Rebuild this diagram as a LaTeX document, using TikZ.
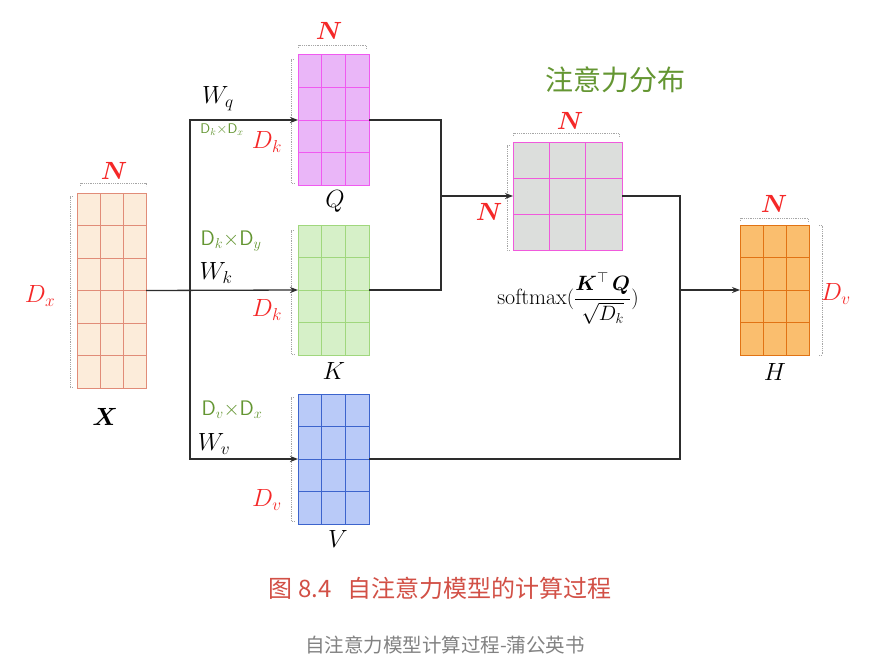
\documentclass[tikz,border=0pt]{standalone}
\usepackage{amsmath}
\usepackage{fontspec}
\newfontfamily\cjk{Noto Sans CJK SC}
\usetikzlibrary{arrows.meta,calc}
\definecolor{lblred}{RGB}{245,40,40}
\definecolor{hgreen}{RGB}{100,150,50}
\definecolor{capred}{RGB}{210,80,70}
\definecolor{capgrey}{RGB}{130,130,130}
\definecolor{conncol}{RGB}{45,45,45}
\definecolor{xfill}{RGB}{252,236,218}\definecolor{xdraw}{RGB}{225,140,120}
\definecolor{qfill}{RGB}{234,182,248}\definecolor{qdraw}{RGB}{240,90,240}
\definecolor{kfill}{RGB}{214,240,200}\definecolor{kdraw}{RGB}{160,215,125}
\definecolor{vfill}{RGB}{185,202,248}\definecolor{vdraw}{RGB}{60,100,205}
\definecolor{sfill}{RGB}{220,222,220}\definecolor{sdraw}{RGB}{240,90,220}
\definecolor{hfill}{RGB}{250,190,110}\definecolor{hdraw}{RGB}{225,115,20}
\newcommand\matgrid[4]{%
  \pgfmathtruncatemacro\ncols{#2-1}\pgfmathtruncatemacro\nrows{#3-1}%
  \foreach \i in {1,...,\ncols}{\draw[#4,line width=1pt] ($(#1.north west)!\i/#2!(#1.north east)$) -- ($(#1.south west)!\i/#2!(#1.south east)$);}%
  \foreach \j in {1,...,\nrows}{\draw[#4,line width=1pt] ($(#1.north west)!\j/#3!(#1.south west)$) -- ($(#1.north east)!\j/#3!(#1.south east)$);}}
\tikzset{
  matbox/.style={draw, line width=1pt, inner sep=0pt, outer sep=0pt, rectangle},
  conn/.style={draw=conncol, line width=1.3pt},
  arr/.style={conn, -{Stealth[length=8pt,width=6pt]}},
  lbl/.style={font=\fontsize{23}{26}\selectfont, inner sep=0pt},
  rlbl/.style={lbl, text=lblred},
  hand/.style={text=hgreen, font=\sffamily\fontsize{21}{24}\selectfont, inner sep=0pt},
  dim/.style={draw=gray!70, densely dotted, line width=0.8pt}
}
\begin{document}
\begin{tikzpicture}[x=1pt,y=-1pt]
\useasboundingbox[fill=white] (0,0) rectangle (896,669);
% matrices
\node[matbox, draw=xdraw, fill=xfill, minimum width=69pt, minimum height=195pt] (X) at (111.5,290.5) {};
\matgrid{X}{3}{6}{xdraw}
\node[matbox, draw=qdraw, fill=qfill, minimum width=71pt, minimum height=130pt] (Q) at (333.5,120) {};
\matgrid{Q}{3}{4}{qdraw}
\node[matbox, draw=kdraw, fill=kfill, minimum width=71pt, minimum height=130pt] (K) at (333.5,290) {};
\matgrid{K}{3}{4}{kdraw}
\node[matbox, draw=vdraw, fill=vfill, minimum width=71pt, minimum height=130pt] (V) at (333.5,459) {};
\matgrid{V}{3}{4}{vdraw}
\node[matbox, draw=sdraw, fill=sfill, minimum width=109pt, minimum height=108pt] (S) at (567.5,196) {};
\matgrid{S}{3}{3}{sdraw}
\node[matbox, draw=hdraw, fill=hfill, minimum width=69pt, minimum height=130pt] (H) at (774.5,290) {};
\matgrid{H}{3}{4}{hdraw}
% dimension brackets
\draw[dim] (80,186) -- (80,183) -- (146,183) -- (146,186);
\draw[dim] (73,196) -- (70,196) -- (70,387) -- (73,387);
\draw[dim] (298,48) -- (298,45) -- (366,45) -- (366,48);
\draw[dim] (294,59) -- (291,59) -- (291,183) -- (294,183);
\draw[dim] (294,230) -- (291,230) -- (291,354) -- (294,354);
\draw[dim] (294,397) -- (291,397) -- (291,521) -- (294,521);
\draw[dim] (513,136) -- (513,133) -- (619,133) -- (619,136);
\draw[dim] (510,145) -- (507,145) -- (507,250) -- (510,250);
\draw[dim] (740,221) -- (740,218) -- (808,218) -- (808,221);
\draw[dim] (819,225) -- (822,225) -- (822,355) -- (819,355);
% connectors
\coordinate (jx) at (190,290);
\coordinate (js) at (441,196);
\coordinate (jh) at (680,290);
\draw[arr] (X.east) -- (K.west);
\draw[arr] (jx) |- (Q.west);
\draw[arr] (jx) |- (V.west);
\draw[conn] (Q.east) -| (js);
\draw[conn] (K.east) -| (js);
\draw[arr] (js) -- (S.west);
\draw[conn] (S.east) -| (jh);
\draw[conn] (V.east) -| (jh);
\draw[arr] (jh) -- (H.west);
% labels
\node[rlbl] (nX) at (114,171) {$\boldsymbol{N}$};
\node[rlbl] (dX) at (40,296) {$D_x$};
\node[lbl] (lX) at (105,417) {$\boldsymbol{X}$};
\node[rlbl] (nQ) at (329,31) {$\boldsymbol{N}$};
\node[rlbl] (dQ) at (267,142) {$D_k$};
\node[lbl] (lQ) at (335,201) {$Q$};
\node[lbl] (wq) at (218,99) {$W_q$};
\node[rlbl] (dK) at (267,310) {$D_k$};
\node[lbl] (lK) at (334,371) {$K$};
\node[lbl] (wk) at (216,273) {$W_k$};
\node[rlbl] (dV) at (267,500) {$D_v$};
\node[lbl] (lV) at (338,539) {$V$};
\node[lbl] (wv) at (214,444) {$W_v$};
\node[rlbl] (nS) at (570,121) {$\boldsymbol{N}$};
\node[rlbl] (nS2) at (489,212) {$\boldsymbol{N}$};
\node[lbl, font=\fontsize{22}{26}\selectfont] (sm) at (568,298) {$\displaystyle\mathrm{softmax}(\frac{\boldsymbol{K}^{\top}\,\boldsymbol{Q}}{\sqrt{D_k}})$};
\node[rlbl] (nH) at (774,204) {$\boldsymbol{N}$};
\node[rlbl] (dH) at (836,294) {$D_v$};
\node[lbl] (lH) at (775,372) {$H$};
% handwritten notes
\node[hand, font=\sffamily\fontsize{14}{16}\selectfont] (h1) at (222,130) {D$_k$$\times$D$_x$};
\node[hand] (h2) at (231,241) {D$_k$$\times$D$_y$};
\node[hand] (h3) at (232,410) {D$_v$$\times$D$_x$};
\node[text=hgreen, font=\cjk\fontsize{28}{30}\selectfont, inner sep=0pt] (h4) at (615,80) {注意力分布};
% captions
\node[text=capred, font=\cjk\fontsize{24}{27}\selectfont] (cap) at (440,588) {图 8.4\hspace{16pt}自注意力模型的计算过程};
\node[text=capgrey, font=\cjk\fontsize{19.5}{22}\selectfont] (src) at (445,645) {自注意力模型计算过程-蒲公英书};
\end{tikzpicture}
\end{document}
